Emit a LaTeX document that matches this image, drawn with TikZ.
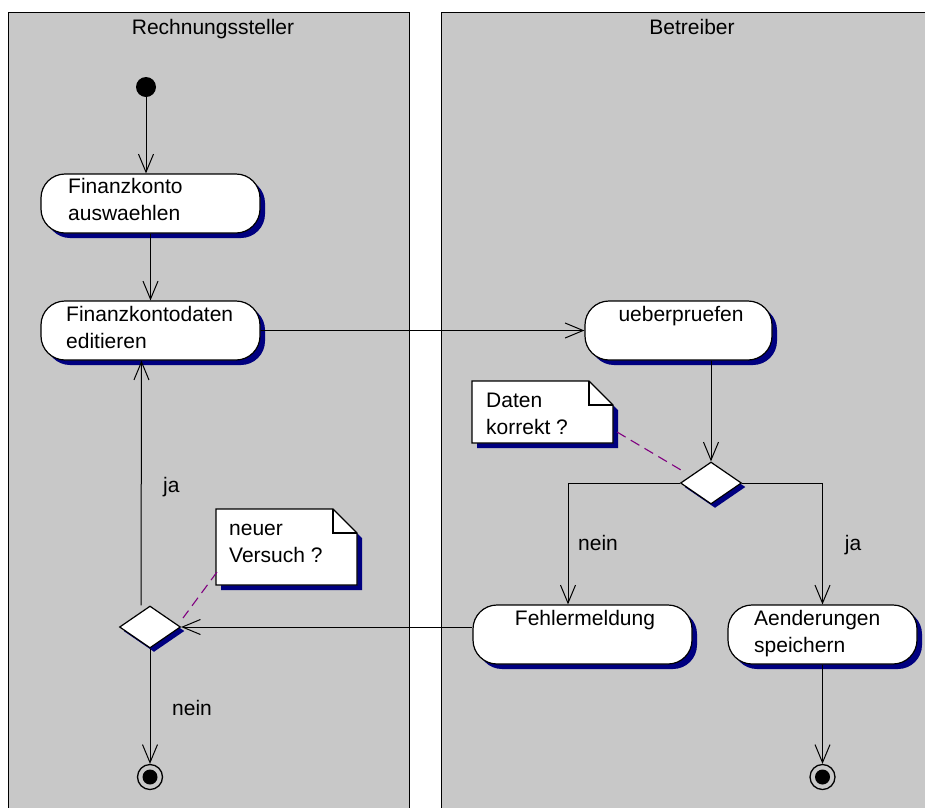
\documentclass[tikz,border=0pt]{standalone}
\usepackage{fontspec}
\setmainfont{Liberation Sans}
\usetikzlibrary{shapes.geometric,shadows,arrows.meta,calc}

\definecolor{lanegray}{RGB}{200,200,200}
\definecolor{shadowblue}{RGB}{0,0,128}
\definecolor{linkpurple}{RGB}{128,0,128}

% two left-aligned lines whose baseline is the first line
\newcommand\linepair[2]{\begin{tabular}[t]{@{}l@{}}#1\\#2\end{tabular}}

\begin{document}
\begin{tikzpicture}[x=1pt,y=-1pt,
  every node/.style={font=\fontsize{21}{27}\selectfont},
  lane/.style={draw=black, line width=1pt, fill=lanegray},
  activity/.style={draw=black, line width=1.2pt, fill=white,
    rounded corners=24pt, minimum height=59pt, inner sep=0pt,
    drop shadow={shadow xshift=5pt, shadow yshift=-5pt, fill=shadowblue, opacity=1}},
  decision/.style={diamond, draw=black, line width=1.2pt, fill=white,
    minimum width=61pt, minimum height=42pt, inner sep=0pt,
    drop shadow={shadow xshift=4pt, shadow yshift=-4pt, fill=shadowblue, opacity=1}},
  startdot/.style={circle, fill=black, minimum size=20pt, inner sep=0pt},
  enddot/.style={circle, draw=black, line width=1.3pt, minimum size=25pt, inner sep=0pt,
    path picture={\fill[black] (path picture bounding box.center) circle (7.5pt);}},
  notebox/.style={draw=black, line width=1.2pt, fill=white},
  noteshadow/.style={fill=shadowblue},
  lbl/.style={inner sep=0pt, anchor=base west},
  clbl/.style={inner sep=0pt, anchor=base},
  arr/.style={-{Straight Barb[length=18pt,width=15pt]}, line width=1pt},
  notelink/.style={draw=linkpurple, line width=1.1pt, dash pattern=on 10pt off 6pt}
]
\useasboundingbox (0,0) rectangle (925,807);
\clip (0,0) rectangle (925,807);
\fill[white] (0,0) rectangle (925,807);

% swimlanes
\draw[lane] (8,12) rectangle (409,830);
\draw[lane] (441,12) rectangle (945,830);
\node[clbl] (lane1t) at (213,34) {Rechnungssteller};
\node[clbl] (lane2t) at (692,34) {Betreiber};

% notes with folded corner
\begin{scope}[shift={(5,5)}]
  \path[noteshadow] (472,381) -- (589,381) -- (613,405) -- (613,443) -- (472,443) -- cycle;
  \path[noteshadow] (216,509) -- (333,509) -- (357,533) -- (357,585) -- (216,585) -- cycle;
\end{scope}
\path[notebox] (472,381) -- (589,381) -- (613,405) -- (613,443) -- (472,443) -- cycle;
\draw[line width=1.2pt] (589,381) -- (589,405) -- (613,405);
\path[notebox] (216,509) -- (333,509) -- (357,533) -- (357,585) -- (216,585) -- cycle;
\draw[line width=1.2pt] (333,509) -- (333,533) -- (357,533);
\node[lbl] (n1t) at (486,407) {\linepair{Daten}{korrekt ?}};
\node[lbl] (n2t) at (229,535) {\linepair{neuer}{Versuch ?}};

% states
\node[startdot] (start) at (146,87) {};
\node[activity, minimum width=219pt] (a1) at (150.5,203.5) {};
\node[activity, minimum width=219pt] (a2) at (150.5,330.5) {};
\node[activity, minimum width=187pt] (a3) at (678.5,330.5) {};
\node[activity, minimum width=219pt] (f)  at (582.5,634.5) {};
\node[activity, minimum width=189pt] (ae) at (822.5,634.5) {};
\node[decision] (d1) at (711,483) {};
\node[decision] (d2) at (150,627) {};
\node[enddot] (end1) at (150,777) {};
\node[enddot] (end2) at (822.5,777) {};

\node[lbl] (a1t) at (68,193) {\linepair{Finanzkonto}{auswaehlen}};
\node[lbl] (a2t) at (66,321) {\linepair{Finanzkontodaten}{editieren}};
\node[clbl] (a3t) at (681,321) {ueberpruefen};
\node[clbl] (ft) at (585,625) {Fehlermeldung};
\node[lbl] (aet) at (754,625) {\linepair{Aenderungen}{speichern}};

% transitions
\draw[arr] (start) -- (start |- a1.north);
\draw[arr] (a1) -- (a2);
\draw[arr] (a2.east) -- (a3.west);
\draw[arr] (a3.south -| d1.north) -- (d1.north);
\draw[arr] (d1.west) -| ([xshift=-14.5pt]f.north);
\draw[arr] (d1.east) -| (ae.north);
\draw[arr] (ae) -- (end2);
\draw[arr] (f.west |- d2.east) -- (d2.east);
\draw[arr] ([xshift=-9pt]d2.north) -- ([xshift=-9pt]a2.south);
\draw[arr] (d2) -- (end1);

% guard labels
\node[lbl] (ja1) at (163,492) {ja};
\node[lbl] (nein1) at (172,715) {nein};
\node[clbl] (nein2) at (598,550) {nein};
\node[clbl] (ja2) at (853,550) {ja};

% note anchors
\coordinate (n1link) at (617,432);
\coordinate (d1link) at (681,470);
\coordinate (n2link) at (217,572);
\coordinate (d2link) at (183,618);
\draw[notelink] (n1link) -- (d1link);
\draw[notelink] (n2link) -- (d2link);
\end{tikzpicture}
\end{document}
